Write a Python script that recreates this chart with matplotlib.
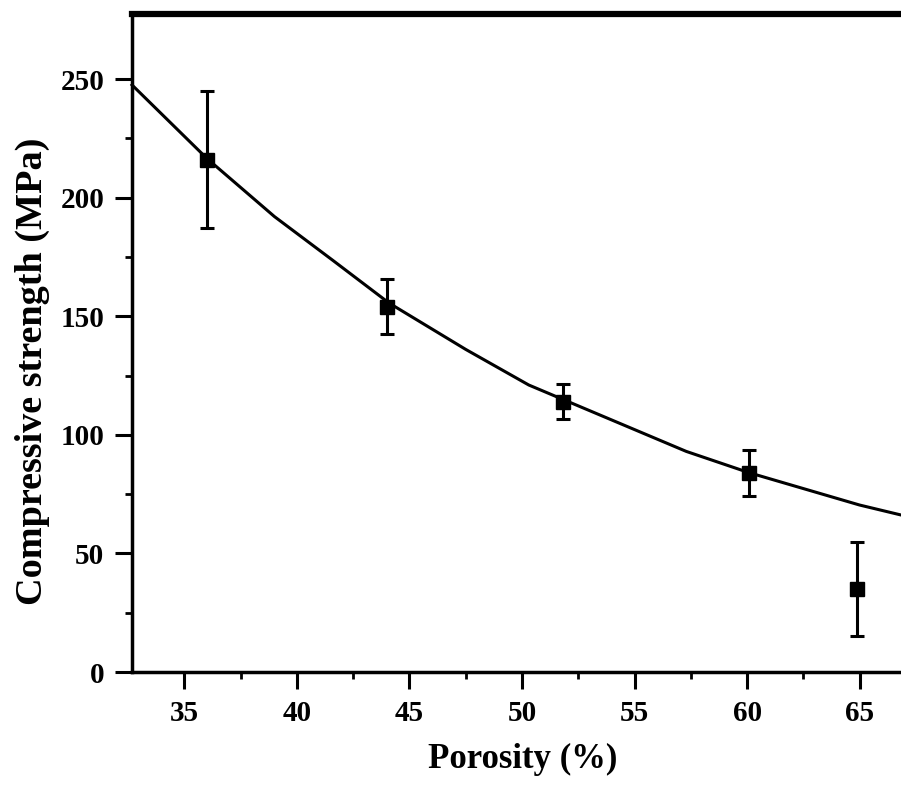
import numpy as np
import matplotlib.pyplot as plt

# measured points (porosity %, strength MPa, error)
porosity = [36.0, 44.0, 51.8, 60.1, 64.9]
strength = [216, 154, 114, 84, 35]
err = [29, 11.5, 7.5, 9.6, 20]

# fitted curve
fit_x = [32.67, 36.0, 39.0, 41.6, 44.1, 47.5, 50.3, 51.8, 57.3, 60.1, 65.0, 66.84]
fit_y = [247.5, 216.5, 192, 173.5, 155.5, 136, 121, 115, 93, 84, 70.4, 66.2]

xticks = [35, 40, 45, 50, 55, 60, 65]
yticks = [0, 50, 100, 150, 200, 250]

plt.rcParams['font.family'] = ['Liberation Serif', 'DejaVu Serif']
plt.rcParams['font.weight'] = 'bold'

fig = plt.figure(figsize=(9.01, 7.87), dpi=100)
ax = fig.add_axes([0.1465, 0.1461, 0.8535, 0.8361])

ax.plot(fit_x, fit_y, color='black', lw=2.2, clip_on=False, zorder=2)
ax.errorbar(porosity, strength, yerr=err, fmt='s', color='black',
            ms=10.5, elinewidth=2.2, capsize=5, capthick=2.2, zorder=3)

ax.set_xlim(32.67, 66.84)
ax.set_ylim(0, 277.4)
ax.set_xticks(xticks)
ax.set_yticks(yticks)
ax.set_xticks([37.5, 42.5, 47.5, 52.5, 57.5, 62.5], minor=True)
ax.set_yticks([25, 75, 125, 175, 225], minor=True)

ax.spines['right'].set_visible(False)
ax.spines['top'].set_linewidth(4.5)
ax.spines['left'].set_linewidth(2.5)
ax.spines['bottom'].set_linewidth(2.5)

ax.tick_params(axis='both', which='major', direction='out', length=12,
               width=2.2, labelsize=21, pad=8)
ax.tick_params(axis='both', which='minor', direction='out', length=5, width=2)
ax.tick_params(top=False, right=False, which='both')

ax.set_xlabel('Porosity (%)', fontsize=25, fontweight='bold')
ax.set_ylabel('Compressive strength (MPa)', fontsize=27.5, fontweight='bold')
ax.xaxis.set_label_coords(0.508, -0.108)
ax.yaxis.set_label_coords(-0.1066, 0.457)

fig.savefig('out.png', dpi=100)
